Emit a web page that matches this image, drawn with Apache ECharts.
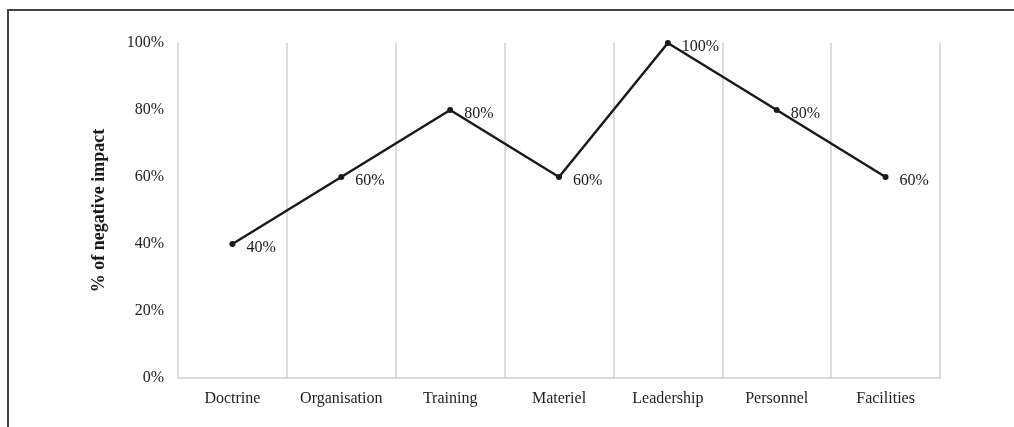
<!DOCTYPE html>
<html>
<head>
<meta charset="utf-8">
<script src="https://cdn.jsdelivr.net/npm/echarts@6/dist/echarts.min.js"></script>
<style>
  html, body { margin: 0; padding: 0; background: #fff; }
  #frame { position: absolute; left: 7px; top: 9px; width: 1007px; height: 418px;
           border-top: 2px solid #444; border-left: 2px solid #444; box-sizing: border-box; }
  #chart { position: absolute; left: 0; top: 0; width: 1014px; height: 427px; }
</style>
</head>
<body>
<div id="frame"></div>
<div id="chart"></div>
<script>
// categories and values (percent)
let categories = ["Doctrine", "Organisation", "Training", "Materiel", "Leadership", "Personnel", "Facilities"]
let impact = [40, 60, 80, 60, 100, 80, 60]
let yTicks = [0, 20, 40, 60, 80, 100]

let font = "'Liberation Serif', 'DejaVu Serif', serif"
let myChart = echarts.init(document.getElementById("chart"))

myChart.setOption({
  animation: false,
  grid: {
    left: 178,
    right: 74,
    top: 43,
    bottom: 49
  },
  xAxis: {
    type: "category",
    data: categories,
    boundaryGap: true,
    axisLine: { lineStyle: { color: "#d0d0d0", width: 1.5 } },
    axisTick: { show: false },
    splitLine: { show: true, lineStyle: { color: "#d0d0d0", width: 1.5 } },
    axisLabel: { color: "#222", fontFamily: font, fontSize: 16, margin: 13 }
  },
  yAxis: {
    type: "value",
    min: yTicks[0],
    max: yTicks[yTicks.length - 1],
    interval: 20,
    name: "% of negative impact",
    nameLocation: "middle",
    nameGap: 70,
    nameTextStyle: { color: "#1a1a1a", fontFamily: font, fontSize: 18, fontWeight: "bold" },
    axisLine: { show: false },
    axisTick: { show: false },
    splitLine: { show: false },
    axisLabel: { color: "#222", fontFamily: font, fontSize: 16, margin: 14, formatter: "{value}%" }
  },
  series: [
    {
      type: "line",
      data: impact,
      symbol: "circle",
      symbolSize: 6,
      lineStyle: { color: "#1a1a1a", width: 2.5 },
      itemStyle: { color: "#1a1a1a" },
      label: {
        show: true,
        position: "right",
        distance: 11,
        offset: [0, 4],
        formatter: "{c}%",
        color: "#1a1a1a",
        fontFamily: font,
        fontSize: 16
      }
    }
  ]
})
</script>
</body>
</html>
